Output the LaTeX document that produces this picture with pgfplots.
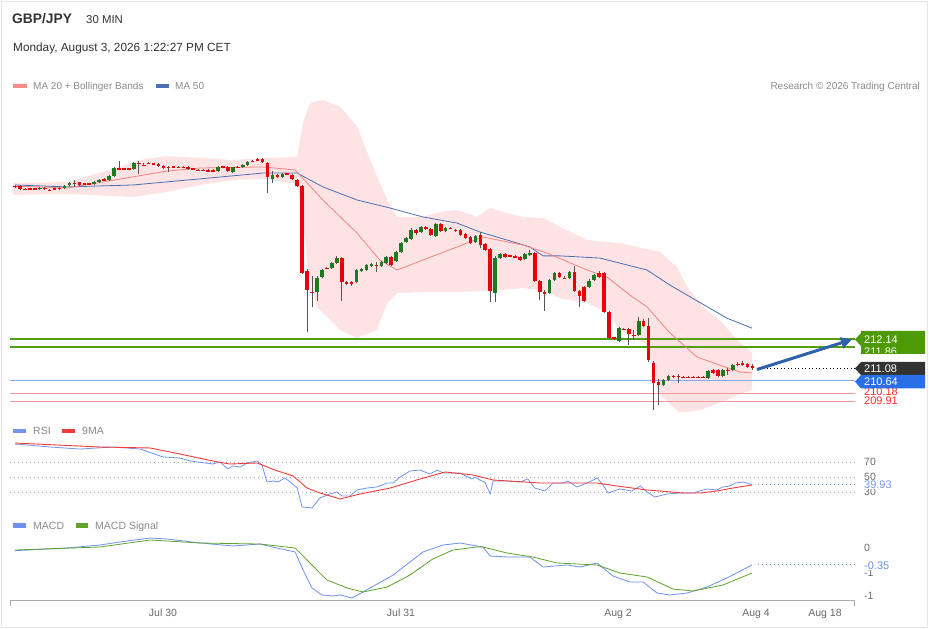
\documentclass[border=0pt]{standalone}
\usepackage{pgfplots}
\pgfplotsset{compat=1.18}
\usepackage{pgfplotstable}
\usepackage{fontspec}
\setmainfont{Liberation Sans}
\usetikzlibrary{arrows.meta}
\newcommand{\fs}[1]{\fontsize{#1}{#1}\selectfont}
\definecolor{framecol}{HTML}{E2E7ED}
\definecolor{hdr}{HTML}{333333}
\definecolor{legtxt}{HTML}{8A8A8A}
\definecolor{axtxt}{HTML}{6A6A6A}
\definecolor{axgray}{HTML}{AAAAAA}
\definecolor{bbfill}{HTML}{FDE3E3}
\definecolor{bbleg}{HTML}{F88A8A}
\definecolor{ma20}{HTML}{F4847E}
\definecolor{ma50}{HTML}{4A6FB5}
\definecolor{lvlgreen}{HTML}{52A012}
\definecolor{lvlblue}{HTML}{86A9F0}
\definecolor{lvlred}{HTML}{F29A9A}
\definecolor{upcol}{HTML}{1E7A1E}
\definecolor{dncol}{HTML}{E8000B}
\definecolor{wick}{HTML}{555555}
\definecolor{rsiblue}{HTML}{7395EE}
\definecolor{red9}{HTML}{F23B3B}
\definecolor{macdblue}{HTML}{6E90EE}
\definecolor{siggreen}{HTML}{5FA32B}
\definecolor{lblgreen}{HTML}{4E9A06}
\definecolor{lbldark}{HTML}{333333}
\definecolor{lblblue}{HTML}{2A6FE8}
\definecolor{redtxt}{HTML}{FF2B2B}
\definecolor{arrowblue}{HTML}{2F62A8}
\definecolor{dotgray}{HTML}{AAAAAA}

\pgfplotstableread{
k o h l c
0 217.64 217.68 217.57 217.62
1 217.64 217.68 217.50 217.54
2 217.54 217.57 217.50 217.52
3 217.54 217.57 217.50 217.53
4 217.54 217.57 217.50 217.53
6 217.59 217.61 217.50 217.54
7 217.50 217.54 217.46 217.49
8 217.54 217.57 217.50 217.53
9 217.57 217.64 217.50 217.56
12 217.75 217.86 217.61 217.74
13 217.77 217.79 217.64 217.68
14 217.72 217.75 217.68 217.71
15 217.72 217.75 217.68 217.71
18 217.88 217.93 217.82 217.87
21 218.27 218.54 218.22 218.26
22 218.27 218.29 218.22 218.26
23 218.27 218.29 218.22 218.26
25 218.47 218.54 218.08 218.46
26 218.40 218.47 218.36 218.39
27 218.47 218.51 218.44 218.46
28 218.44 218.47 218.40 218.43
29 218.44 218.47 218.33 218.36
30 218.36 218.40 218.26 218.29
31 218.33 218.36 218.15 218.32
32 218.34 218.38 218.31 218.33
33 218.33 218.36 218.29 218.32
34 218.33 218.36 218.29 218.32
35 218.33 218.36 218.22 218.26
36 218.26 218.29 218.22 218.25
37 218.22 218.26 218.18 218.21
38 218.22 218.26 218.18 218.21
39 218.20 218.24 218.17 218.19
40 218.20 218.24 218.17 218.19
42 218.34 218.38 218.29 218.33
43 218.34 218.36 218.15 218.18
45 218.33 218.36 218.29 218.32
48 218.54 218.58 218.51 218.53
49 218.60 218.65 218.54 218.59
50 218.61 218.65 218.47 218.51
51 218.47 218.51 217.39 217.97
53 218.04 218.08 217.93 217.97
55 218.08 218.11 218.04 218.07
56 218.04 218.08 217.86 217.90
57 217.86 217.90 217.61 217.64
58 217.64 217.68 214.48 214.51
59 214.59 214.66 212.39 213.90
60 213.83 214.41 213.29 213.82
63 214.69 214.73 214.66 214.68
66 215.05 215.09 213.51 214.19
67 214.19 214.23 214.08 214.12
68 214.19 214.23 214.05 214.12
73 214.80 214.91 214.55 214.79
76 215.09 215.13 214.77 214.80
81 216.06 216.10 215.88 215.95
83 216.17 216.21 216.06 216.10
84 216.10 216.13 215.84 215.88
86 216.28 216.31 215.99 216.02
88 216.13 216.17 216.10 216.12
89 216.06 216.10 215.99 216.05
90 216.06 216.10 215.84 215.88
91 215.92 215.95 215.74 215.77
92 215.81 215.84 215.56 215.59
94 215.88 215.99 215.41 215.52
95 215.56 215.59 215.31 215.34
96 215.38 215.41 213.47 213.87
99 215.20 215.23 215.05 215.09
100 215.13 215.16 215.09 215.12
101 215.11 215.16 215.05 215.10
102 215.09 215.13 214.95 214.98
105 215.23 215.27 214.19 214.23
106 214.23 214.26 213.54 213.83
107 213.83 213.90 213.15 213.76
110 214.51 214.55 214.33 214.37
111 214.33 214.41 214.30 214.32
113 214.55 214.77 213.83 213.87
114 213.87 213.90 213.29 213.69
115 214.01 214.05 213.47 213.51
118 214.51 214.59 214.33 214.37
119 214.51 214.55 213.08 213.11
120 213.11 213.15 212.14 212.18
121 212.18 212.21 212.10 212.17
123 212.50 212.53 212.46 212.49
124 212.50 212.53 211.92 212.32
125 212.28 212.46 212.10 212.27
127 212.79 212.86 212.57 212.61
128 212.61 212.89 211.31 211.38
129 211.28 211.35 209.58 210.56
130 210.59 210.70 209.76 210.48
133 210.81 210.85 210.74 210.80
134 210.81 210.88 210.56 210.80
135 210.77 210.81 210.74 210.76
136 210.77 210.81 210.74 210.76
137 210.77 210.81 210.74 210.76
138 210.77 210.81 210.74 210.76
139 210.77 210.81 210.74 210.76
141 211.02 211.06 210.88 210.92
142 211.02 211.06 210.77 210.81
144 211.02 211.10 210.85 211.01
146 211.24 211.31 211.17 211.23
147 211.28 211.35 211.17 211.20
148 211.24 211.28 211.10 211.13
149 211.17 211.24 211.02 211.08
}\candown

\pgfplotstableread{
k o h l c
5 217.54 217.61 217.50 217.59
10 217.57 217.68 217.54 217.66
11 217.68 217.79 217.64 217.75
16 217.72 217.82 217.68 217.79
17 217.79 217.90 217.75 217.86
19 217.86 218.04 217.82 218.00
20 218.00 218.33 217.97 218.29
24 218.26 218.51 218.22 218.47
41 218.18 218.36 218.15 218.34
44 218.15 218.33 218.11 218.31
46 218.31 218.44 218.29 218.40
47 218.40 218.54 218.36 218.51
52 217.90 218.18 217.75 218.04
54 217.97 218.11 217.93 218.08
61 213.83 214.41 213.51 214.33
62 214.37 214.66 214.33 214.62
64 214.69 214.91 214.66 214.87
65 214.87 215.13 214.84 215.05
69 214.19 214.66 214.15 214.62
70 214.59 214.69 214.55 214.66
71 214.62 214.84 214.59 214.80
72 214.77 214.87 214.73 214.84
74 214.77 214.95 214.73 214.91
75 214.87 215.13 214.84 215.09
77 214.95 215.31 214.91 215.27
78 215.27 215.63 215.23 215.59
79 215.63 215.81 215.59 215.77
80 215.74 216.13 215.70 216.06
82 215.99 216.21 215.95 216.17
85 215.84 216.31 215.81 216.28
87 216.02 216.17 215.99 216.13
93 215.63 215.88 215.59 215.84
97 213.79 215.13 213.47 215.05
98 215.05 215.23 215.02 215.20
103 215.02 215.23 214.98 215.20
104 215.16 215.34 215.13 215.23
108 213.79 214.30 213.76 214.26
109 214.26 214.55 214.23 214.51
112 214.33 214.59 214.30 214.55
116 214.01 214.30 213.97 214.23
117 214.26 214.48 214.23 214.44
122 212.07 212.57 212.03 212.53
126 212.28 212.93 212.25 212.79
131 210.48 210.70 210.45 210.66
132 210.66 210.85 210.63 210.81
140 210.74 211.02 210.70 210.99
143 210.81 211.06 210.77 211.02
145 211.02 211.24 210.99 211.20
}\canup

\pgfplotsset{panel/.style={scale only axis, hide axis, enlargelimits=false,
  xmin=-1.0101, xmax=169.697, width=845pt, anchor=south west},
  candle/.style={draw=none, mark=none, forget plot, error bars/.cd, y explicit, error mark=none}}

\begin{document}
\begin{tikzpicture}
\begin{scope}[x=1pt,y=1pt]
\useasboundingbox (0,0) rectangle (929,629);
\fill[white] (0,0) rectangle (929,629);
\end{scope}

% ---------------- price panel ----------------
\begin{axis}[panel, at={(10pt,217pt)}, height=317pt,
  ymin=209.514, ymax=220.917]
\addplot[fill=bbfill, draw=none] coordinates {
(-0.4,217.75) (10.5,217.79) (19.2,218.22) (25.3,218.58) (30.7,218.72) (37.4,218.65)
(44,218.58) (50.9,218.65) (57,218.69) (58.2,219.91) (59.6,220.63) (62.2,220.74)
(65.7,220.49) (69.1,219.79) (72.3,218.33) (75.2,217.14) (77.2,216.53) (82.4,216.53)
(85.9,216.71) (89.3,216.78) (93.3,216.53) (96,216.85) (99.4,216.67) (102.6,216.53)
(106.7,216.49) (110.1,216.17) (115.6,215.70) (119.6,215.63) (122.2,215.59)
(130.3,215.27) (133.7,214.73) (135.8,214.01) (139,213.29) (142.4,212.82)
(145.9,212.10) (148.9,211.64)
(148.9,210.30) (145.9,210.13) (142.4,209.84) (138.4,209.58) (134.3,209.48)
(130.3,210.13) (127.7,211.92) (122.2,212.46) (119.6,213.11) (115.6,213.43)
(110.1,213.61) (106.1,213.90) (102.6,213.97) (96,213.87) (89.3,213.83)
(82.4,213.83) (77.2,213.79) (75.2,213.43) (73.1,212.46) (69.1,212.18)
(65.7,212.46) (61,213.29) (59,214.87) (58.2,216.42) (57,217.72) (50.1,217.90)
(44,217.86) (37.4,217.68) (30.7,217.43) (23.8,217.25) (10.5,217.36) (-0.4,217.32)
} --cycle;
% level lines
\addplot[lvlred, line width=0.8pt] coordinates {(-1.0101,210.18) (169.697,210.18)};
\addplot[lvlred, line width=0.8pt] coordinates {(-1.0101,209.91) (169.697,209.91)};
\addplot[lvlblue, line width=1.4pt] coordinates {(-1.0101,210.64) (169.697,210.64)};
\addplot[lvlgreen, line width=1.8pt] coordinates {(-1.0101,212.14) (169.697,212.14)};
\addplot[lvlgreen, line width=1.8pt] coordinates {(-1.0101,211.86) (169.697,211.86)};
% MA 50
\addplot[ma50, line width=0.8pt] coordinates {
(0,217.68) (10.5,217.61) (23.8,217.68) (37.4,217.90) (50.1,218.11) (57,218.11)
(62.2,217.61) (69.1,217.14) (75.8,216.85) (82.4,216.53) (89.3,216.31) (93.9,215.99)
(99.4,215.70) (104,215.45) (106.7,215.13) (110.1,215.13) (118.2,215.05)
(127.7,214.62) (132.3,214.08) (137.8,213.51) (143.8,212.89) (148.9,212.53)};
% MA 20
\addplot[ma20, line width=0.8pt] coordinates {
(0,217.64) (10.5,217.57) (23.8,217.97) (30.7,218.18) (37.4,218.29) (50.1,218.33)
(56.6,218.22) (62.2,217.14) (69.1,215.95) (73.7,214.98) (77.2,214.62) (82.4,214.98)
(89.3,215.45) (94.5,215.81) (102.6,215.52) (107.5,215.23) (115.6,214.62)
(119.6,214.37) (124.2,213.72) (127.7,213.29) (132.3,212.36) (137.8,211.49)
(142.4,211.20) (146.5,210.95) (148.9,210.92)};
% wicks
\addplot[candle, y dir=plus, error bar style={draw=wick, line width=0.8pt, solid}]
  table[x=k, y=l, y error expr=\thisrow{h}-\thisrow{l}] \candown;
\addplot[candle, y dir=plus, error bar style={draw=wick, line width=0.8pt, solid}]
  table[x=k, y=l, y error expr=\thisrow{h}-\thisrow{l}] \canup;
% bodies
\addplot[candle, y dir=both, error bar style={draw=dncol, line width=3.6pt, solid}]
  table[x=k, y expr={(\thisrow{o}+\thisrow{c})/2},
        y error expr={max(abs(\thisrow{c}-\thisrow{o})/2,0.02)}] \candown;
\addplot[candle, y dir=both, error bar style={draw=upcol, line width=3.6pt, solid}]
  table[x=k, y expr={(\thisrow{o}+\thisrow{c})/2},
        y error expr={max(abs(\thisrow{c}-\thisrow{o})/2,0.02)}] \canup;
% last price dotted
\addplot[black, line width=0.8pt, dash pattern=on 1pt off 2.5pt] coordinates {(150.5,211.08) (169.697,211.08)};
\end{axis}

% ---------------- RSI panel ----------------
\begin{axis}[panel, at={(10pt,117pt)}, height=74pt,
  ymin=3.3333, ymax=102]
\addplot[dotgray, line width=0.8pt, dash pattern=on 1pt off 3pt] coordinates {(-1.0101,70) (169.697,70)};
\addplot[dotgray, line width=0.8pt, dash pattern=on 1pt off 3pt] coordinates {(-1.0101,50) (169.697,50)};
\addplot[dotgray, line width=0.8pt, dash pattern=on 1pt off 3pt] coordinates {(-1.0101,30) (169.697,30)};
\addplot[rsiblue, line width=0.8pt] coordinates {
(0,94) (7.1,90) (13.1,87.3) (19.8,90) (25.3,87.3) (29.9,76.7) (33.3,75.3) (35.4,71.3)
(40,67.3) (41.4,70) (43,60.7) (44,64.7) (45.5,63.3) (46.9,68.7) (48.9,71.3) (49.9,66)
(50.9,43.3) (52.1,44.7) (53.1,43.3) (54.5,48.7) (55.6,43.3) (57,35.3) (58,10) (60,8.7)
(61.6,22) (63.6,27.3) (65,30) (66.1,24.7) (67.7,24.7) (69.1,32.7) (71.1,35.3)
(73.1,36.7) (75.2,42) (76.4,42) (77.8,50) (79.8,58) (81.8,59.3) (83.8,54) (85.3,59.3)
(86.5,55.3) (88.5,55.3) (89.9,55.3) (92.3,47.3) (92.9,50) (93.9,46) (94.9,43.3)
(96,27.3) (96.6,44.7) (99.4,44.7) (102,43.3) (103.6,47.3) (105,35.3) (107.1,31.3)
(108.7,42) (110.7,42) (111.7,44.7) (113.5,36.7) (115.6,42) (117.6,48.7) (118.8,39.3)
(119.8,28.7) (122.2,34) (124.6,31.3) (126.3,38) (127.7,30) (129.3,23.3) (131.7,27.3)
(134.3,28.7) (137,28.7) (139.8,34) (141.8,32.7) (143,36.7) (144.4,38) (145.5,42)
(147.1,43.3) (148.9,39.93)};
\addplot[red9, line width=0.9pt] coordinates {
(0,95.3) (17.2,90) (27.3,88.7) (33.3,80.7) (40,71.3) (43.4,67.3) (48.9,68.7)
(52.5,59.3) (56.2,51.3) (59,35.3) (61.6,28.7) (65.7,20.7) (69.7,27.3) (75.8,35.3)
(81.8,47.3) (86.9,56.7) (92.5,52.7) (96.6,46) (106.1,42) (112.7,42) (117.6,42)
(121.6,38) (127.7,32.7) (135,28.7) (138.4,28.7) (141.8,31.3) (145,35.3) (148.9,39.3)};
\addplot[rsiblue, line width=0.9pt, dash pattern=on 1pt off 3pt] coordinates {(150,39.93) (169.697,39.93)};
\end{axis}

% ---------------- MACD panel ----------------
\begin{axis}[panel, at={(10pt,28pt)}, height=66pt,
  ymin=-1.10417, ymax=0.27083]
\addplot[macdblue, line width=0.8pt] coordinates {
(0,-0.056) (10.5,0) (17.2,0.0625) (21.2,0.125) (27.3,0.208) (30.7,0.1875)
(37.4,0.104) (44,0.042) (49.5,0.083) (52.9,0) (56.6,-0.083) (58.2,-0.458)
(60,-0.833) (62,-0.979) (64.2,-1.0) (65.7,-0.979) (68.1,-1.042) (70.3,-0.917)
(76.4,-0.5625) (82.4,-0.083) (86.5,0.0625) (89.9,0.104) (94.5,0.021) (96,-0.167)
(99.4,-0.1875) (104,-0.1875) (106.7,-0.396) (111.5,-0.354) (114.1,-0.396)
(117.6,-0.3125) (120.8,-0.583) (124.2,-0.708) (126.9,-0.708) (129.7,-0.9375)
(132.3,-0.979) (135.8,-0.9375) (139.8,-0.8125) (143.8,-0.625) (148.9,-0.354)};
\addplot[siggreen, line width=0.8pt] coordinates {
(0,-0.042) (17.2,0.021) (27.3,0.167) (37.4,0.104) (49.5,0.083) (56.6,0)
(59.6,-0.3125) (63,-0.667) (67.1,-0.833) (70.3,-0.917) (75.2,-0.8125)
(79.8,-0.5625) (84.4,-0.229) (88.5,-0.042) (93.3,0.021) (94.5,0.021)
(99.4,-0.104) (104.6,-0.1875) (109.5,-0.3125) (117.6,-0.354) (122.2,-0.521)
(127.7,-0.604) (132.9,-0.854) (137,-0.896) (143,-0.771) (148.9,-0.521)};
\addplot[macdblue, line width=0.9pt, dash pattern=on 1pt off 3pt] coordinates {(150,-0.35) (169.697,-0.35)};
\end{axis}

% ---------------- annotations (pixel coordinates, y downwards) ----------------
\begin{scope}[x=1pt, y=-1pt, shift={(0pt,629pt)}]
\draw[framecol, line width=1.2pt] (1.5,1.5) rectangle (927.5,627.5);
\node[anchor=base west, inner sep=0, text=hdr, font=\fs{13.8}\bfseries] at (12,24) {GBP/JPY};
\node[anchor=base west, inner sep=0, text=hdr, font=\fs{11.4}] at (86,23.3) {30 MIN};
\node[anchor=base west, inner sep=0, text=hdr, font=\fs{11.8}] at (13,51.7) {Monday, August 3, 2026 1:22:27 PM CET};
% legend
\fill[bbleg] (13,84) rectangle (27,88.5);
\node[anchor=base west, inner sep=0, text=legtxt, font=\fs{10}] at (33,89.5) {MA 20 + Bollinger Bands};
\fill[ma50] (156,84) rectangle (169,88.5);
\node[anchor=base west, inner sep=0, text=legtxt, font=\fs{10}] at (175,89.5) {MA 50};
\node[anchor=base east, inner sep=0, text=legtxt, font=\fs{10}] at (920,89.5) {Research © 2026 Trading Central};
% arrow
\draw[arrowblue, line width=3pt, -{Triangle[length=11pt,width=11pt]}] (757,369.5) -- (852,339.5);
% price labels
\node[anchor=west, inner sep=0, text=redtxt, font=\fs{11}] at (864,391.5) {210.18};
\node[anchor=west, inner sep=0, text=redtxt, font=\fs{11}] at (864,400.8) {209.91};
\fill[lblgreen] (861,331)--(925,331)--(925,354)--(861,354)--(861,346)--(855,339.5)--(861,333)--cycle;
\begin{scope}
\clip (861,331) rectangle (925,352.5);
\node[anchor=west, inner sep=0, text=white, font=\fs{11}] at (864,351.5) {211.86};
\end{scope}
\node[anchor=west, inner sep=0, text=white, font=\fs{11}] at (864,339.5) {212.14};
\fill[lbldark] (861,362)--(925,362)--(925,375)--(861,375)--(855,368.5)--cycle;
\node[anchor=west, inner sep=0, text=white, font=\fs{11}] at (864,368.5) {211.08};
\fill[lblblue] (861,375)--(925,375)--(925,388.5)--(861,388.5)--(855,381.7)--cycle;
\node[anchor=west, inner sep=0, text=white, font=\fs{11}] at (864,381.7) {210.64};
% RSI legend and labels
\fill[rsiblue] (13,429) rectangle (26,433.5);
\node[anchor=base west, inner sep=0, text=legtxt, font=\fs{10.5}] at (33,434.5) {RSI};
\fill[red9] (62,429) rectangle (75,433.5);
\node[anchor=base west, inner sep=0, text=legtxt, font=\fs{10.5}] at (82,434.5) {9MA};
\node[anchor=west, inner sep=0, text=axtxt, font=\fs{10.5}] at (864,462) {70};
\node[anchor=west, inner sep=0, text=axtxt, font=\fs{10.5}] at (864,476.5) {50};
\node[anchor=west, inner sep=0, text=axtxt, font=\fs{10.5}] at (864,492) {30};
\node[anchor=west, inner sep=1pt, fill=white, text=rsiblue, font=\fs{11}] at (863,484.6) {39.93};
% MACD legend and labels
\fill[macdblue] (13,523.5) rectangle (26,528);
\node[anchor=base west, inner sep=0, text=legtxt, font=\fs{10.5}] at (33,529.5) {MACD};
\fill[siggreen] (76,523.5) rectangle (88,528);
\node[anchor=base west, inner sep=0, text=legtxt, font=\fs{10.5}] at (95,529.5) {MACD Signal};
\node[anchor=west, inner sep=0, text=axtxt, font=\fs{10.5}] at (864,548) {0};
\node[anchor=west, inner sep=0, text=axtxt, font=\fs{10.5}] at (864,573) {-1};
\node[anchor=west, inner sep=1pt, fill=white, text=macdblue, font=\fs{11}] at (863,565.5) {-0.35};
\node[anchor=west, inner sep=0, text=axtxt, font=\fs{10.5}] at (864,596) {-1};
% x axis
\draw[axgray, line width=1.5pt] (10.5,606) -- (10.5,600.5) -- (854.5,600.5) -- (854.5,606);
\node[anchor=base, inner sep=0, text=axtxt, font=\fs{10.5}] at (163,616.5) {Jul 30};
\node[anchor=base, inner sep=0, text=axtxt, font=\fs{10.5}] at (401,616.5) {Jul 31};
\node[anchor=base, inner sep=0, text=axtxt, font=\fs{10.5}] at (618,616.5) {Aug 2};
\node[anchor=base, inner sep=0, text=axtxt, font=\fs{10.5}] at (756,616.5) {Aug 4};
\node[anchor=base, inner sep=0, text=axtxt, font=\fs{10.5}] at (825,616.5) {Aug 18};
\end{scope}
\end{tikzpicture}
\end{document}
